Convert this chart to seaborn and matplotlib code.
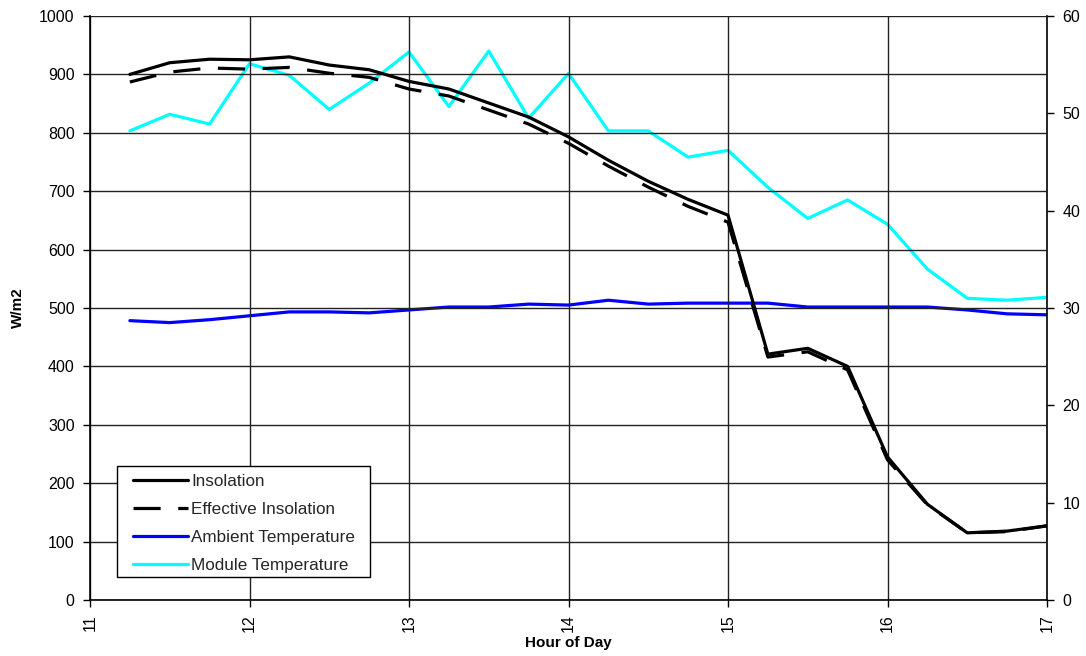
import matplotlib
matplotlib.use("Agg")
import matplotlib.pyplot as plt
import seaborn as sns
import pandas as pd
from matplotlib.lines import Line2D
from matplotlib.patches import Rectangle

hours = [11.25, 11.5, 11.75, 12.0, 12.25, 12.5, 12.75, 13.0, 13.25, 13.5, 13.75, 14.0,
         14.25, 14.5, 14.75, 15.0, 15.25, 15.5, 15.75, 16.0, 16.25, 16.5, 16.75, 17.0]
insolation = [900, 920, 926, 925, 930, 916, 908, 888, 875, 851, 827, 793,
              753, 717, 686, 659, 421, 431, 400, 245, 164, 115, 118, 127]
effective_insolation = [887, 904, 911, 909, 912, 902, 895, 875, 863, 839, 815, 782,
                        743, 707, 674, 647, 416, 425, 394, 240, 163, 115, 117, 127]
ambient_temp = [28.7, 28.5, 28.8, 29.2, 29.6, 29.6, 29.5, 29.8, 30.1, 30.1, 30.4, 30.3,
                30.8, 30.4, 30.5, 30.5, 30.5, 30.1, 30.1, 30.1, 30.1, 29.8, 29.4, 29.3]
module_temp = [48.2, 49.9, 48.9, 55.1, 53.9, 50.4, 53.1, 56.3, 50.7, 56.4, 49.5, 54.1,
               48.2, 48.2, 45.5, 46.2, 42.4, 39.2, 41.1, 38.6, 34.0, 31.0, 30.8, 31.1]
series_labels = ["Insolation", "Effective Insolation", "Ambient Temperature",
                 "Module Temperature"]

sns.set_theme(style="white")
plt.rcParams["font.family"] = ["Liberation Sans", "DejaVu Sans"]

df = pd.DataFrame({
    "hour": hours,
    "Insolation": insolation,
    "Effective Insolation": effective_insolation,
    "Ambient Temperature": ambient_temp,
    "Module Temperature": module_temp,
})

LW = 2.3
DASH = [8.5, 5.5]

fig = plt.figure(figsize=(10.86, 6.56), dpi=100)
ax = fig.add_axes([90 / 1086, 56 / 656, 957 / 1086, 584 / 656])
ax2 = ax.twinx()

sns.lineplot(data=df, x="hour", y="Insolation", ax=ax, color="black", lw=LW, zorder=4)
sns.lineplot(data=df, x="hour", y="Effective Insolation", ax=ax, color="black", lw=LW,
             zorder=3)
ax.lines[-1].set_dashes(DASH)
sns.lineplot(data=df, x="hour", y="Ambient Temperature", ax=ax2, color="#0000ff", lw=LW)
sns.lineplot(data=df, x="hour", y="Module Temperature", ax=ax2, color="#00ffff", lw=LW)

ax.set_zorder(ax2.get_zorder() + 1)
ax.patch.set_visible(False)

ax.set_xlim(11, 17)
ax.set_ylim(0, 1000)
ax2.set_ylim(0, 60)
ax.set_xticks(range(11, 18))
ax.set_yticks(range(0, 1001, 100))
ax2.set_yticks(range(0, 61, 10))

ax.grid(True, color="#222222", lw=1.0)
ax2.grid(False)

for a in (ax, ax2):
    for s in a.spines.values():
        s.set_visible(False)
for name in ("left", "bottom"):
    ax.spines[name].set_visible(True)
    ax.spines[name].set_color("black")
    ax.spines[name].set_linewidth(1.2)
ax2.spines["right"].set_visible(True)
ax2.spines["right"].set_color("black")
ax2.spines["right"].set_linewidth(1.2)

ax.tick_params(axis="y", direction="out", length=5, width=1, color="black",
               labelsize=11.5, left=True, labelcolor="black", pad=6)
ax.tick_params(axis="x", direction="out", length=5, width=1, color="black",
               labelsize=11.5, bottom=True, labelrotation=90, labelcolor="black", pad=5)
ax2.tick_params(axis="y", direction="out", length=5, width=1, color="black",
                labelsize=11.5, right=True, labelcolor="black", pad=6)

ax.set_xlabel("Hour of Day", fontsize=11, fontweight="bold", color="black", labelpad=3)
ax.set_ylabel("W/m2", fontsize=11, fontweight="bold", color="black", labelpad=10)
ax2.set_ylabel("")

# legend box drawn as a framed panel, with the entries placed inside it
ax.add_patch(Rectangle((0.0282, 0.0394), 0.2644, 0.190, transform=ax.transAxes,
                       facecolor="white", edgecolor="black", lw=1.0, zorder=9))
handles = [
    Line2D([], [], color="black", lw=LW),
    Line2D([], [], color="black", lw=LW, dashes=DASH),
    Line2D([], [], color="#0000ff", lw=LW),
    Line2D([], [], color="#00ffff", lw=LW),
]
leg = ax.legend(handles, series_labels, loc="upper left", bbox_to_anchor=(0.0449, 0.2158),
                fontsize=12.3, frameon=False, handlelength=3.2, handletextpad=0.22,
                borderpad=0, borderaxespad=0, labelspacing=0.77)
leg.set_zorder(10)

fig.savefig("out.png", dpi=100, facecolor="white")
